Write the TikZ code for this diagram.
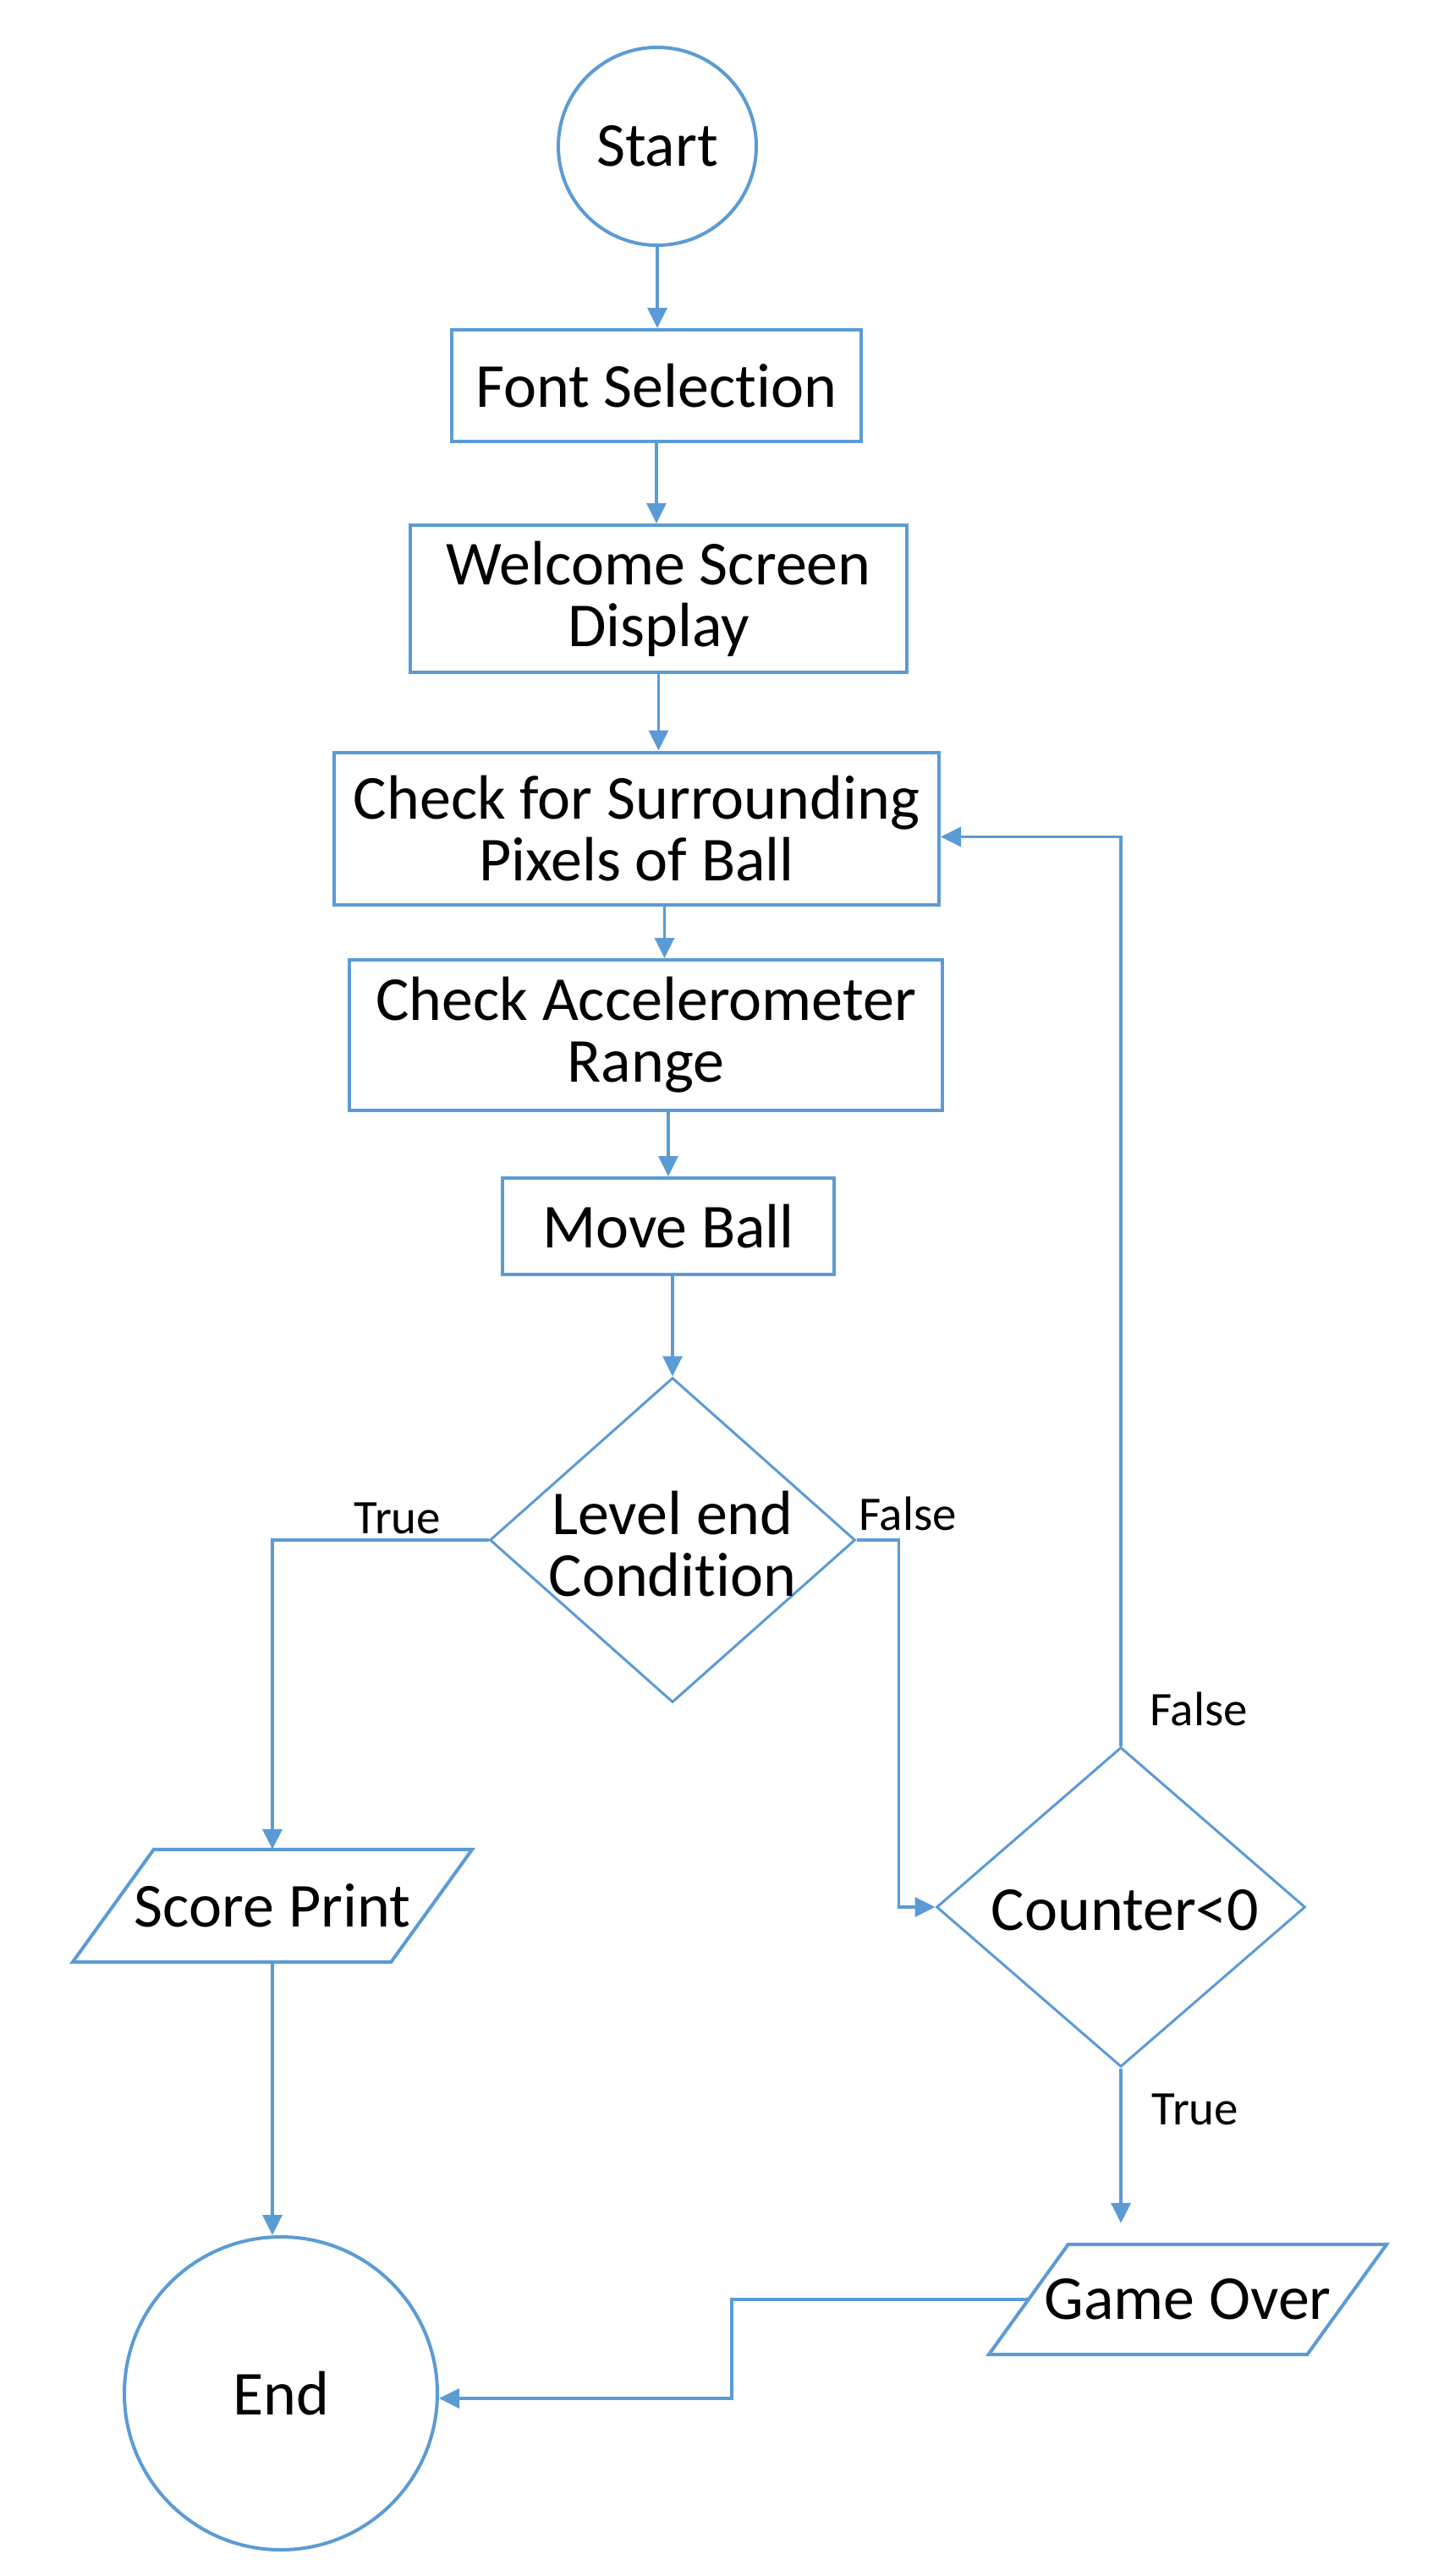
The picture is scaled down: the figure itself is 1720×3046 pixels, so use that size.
\documentclass[tikz,border=0pt]{standalone}
\usepackage{fontspec}
\setmainfont{Carlito}[Ligatures=NoCommon]
\usetikzlibrary{shapes.geometric,arrows.meta,calc}
\definecolor{flowblue}{RGB}{91,155,213}
\begin{document}
\begin{tikzpicture}[x=1pt,y=-1pt,
  box/.style={draw=flowblue,line width=4pt,rectangle,inner sep=0pt,font=\fontsize{74}{73}\selectfont,align=center},
  term/.style={draw=flowblue,line width=4pt,circle,inner sep=0pt,font=\fontsize{74}{73}\selectfont},
  decide/.style={draw=flowblue,line width=3pt,diamond,inner sep=0pt},
  plain/.style={inner sep=0pt,font=\fontsize{74}{73}\selectfont,align=center},
  lbl/.style={inner sep=0pt,font=\fontsize{57}{60}\selectfont},
  arr/.style={draw=flowblue,line width=3.5pt,-{Triangle[length=24pt,width=23pt]}},
  para/.style={draw=flowblue,line width=4pt,line join=miter}
]
\fill[white] (0,0) rectangle (1720,3046);
\useasboundingbox (0,0) rectangle (1720,3046);

\node[term,minimum size=234pt] (start) at (777,173) {Start};
\node[box,minimum width=484pt,minimum height=132pt] (font) at (776,456) {Font Selection};
\node[box,minimum width=587pt,minimum height=174pt] (welcome) at (778.5,708) {Welcome Screen\\Display};
\node[box,minimum width=715pt,minimum height=180pt] (check) at (752.5,979.5) {Check for Surrounding\\Pixels of Ball};
\node[box,minimum width=701pt,minimum height=178pt] (accel) at (763.5,1224) {Check Accelerometer\\Range};
\node[box,minimum width=392pt,minimum height=114pt] (move) at (790,1450) {Move Ball};
\node[decide,minimum width=432pt,minimum height=384pt] (level) at (795,1821) {};
\node[plain] (leveltext) at (795,1826) {Level end\\Condition};

\node[plain,minimum width=376pt,minimum height=133pt] (score) at (322,2253.5) {Score Print};
\draw[para] ([xshift=-48pt]score.south west) -- ([xshift=48pt]score.north west) -- ([xshift=48pt]score.north east) -- ([xshift=-48pt]score.south east) -- cycle;

\node[term,minimum size=370pt] (endc) at (332,2830) {End};
\node[decide,minimum width=436pt,minimum height=378pt] (counter) at (1325,2255) {};
\node[plain] (countertext) at (1330,2259) {Counter<0};

\node[plain,minimum width=376pt,minimum height=130pt] (gameover) at (1404,2719) {Game Over};
\draw[para] ([xshift=-47pt]gameover.south west) -- ([xshift=47pt]gameover.north west) -- ([xshift=47pt]gameover.north east) -- ([xshift=-47pt]gameover.south east) -- cycle;

\node[lbl] (ltrue) at (470,1795) {True};
\node[lbl] (lfalse) at (1073,1790) {False};
\node[lbl] (cfalse) at (1417,2021) {False};
\node[lbl] (ctrue) at (1413,2494) {True};

\draw[arr] (start.south) -- (start.south |- font.north);
\draw[arr] (font.south) -- (font.south |- welcome.north);
\draw[arr] (welcome.south) -- (welcome.south |- check.north);
\draw[arr] ($(check.south)+(33,0)$) coordinate (c1) -- (c1 |- accel.north);
\draw[arr] (move.north |- accel.south) -- (move.north);
\draw[arr] (level.north |- move.south) -- (level.north);
\draw[arr] (level.west) -| (score.north);
\draw[arr] (level.east) -- ++(50,0) |- (counter.west);
\draw[arr] (counter.north) |- ($(check.east)+(0,10)$);
\draw[arr,shorten >=25pt] (counter.south) -- (counter.south |- gameover.north);
\draw[arr] (gameover.west) -- ++(-351,0) |- ($(endc.east)+(0,6)$);
\draw[arr] (score.south) -- (score.south |- endc.north);
\end{tikzpicture}
\end{document}
